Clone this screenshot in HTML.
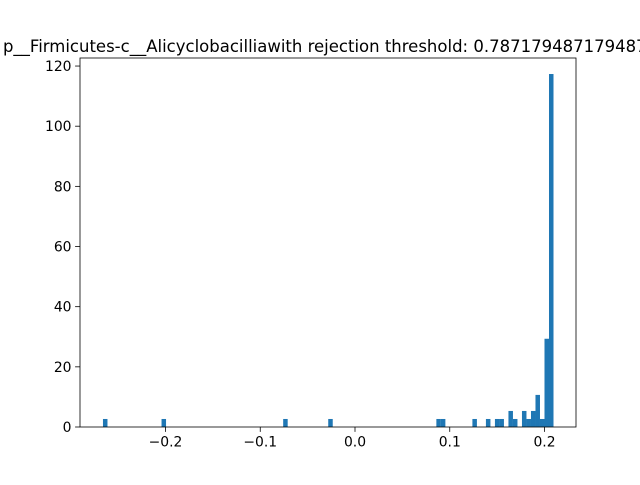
<!DOCTYPE html>
<html><head><meta charset="utf-8"><style>
body{margin:0;background:#fff;overflow:hidden;}
svg text{font-family:"DejaVu Sans","Liberation Sans",sans-serif;}
</style></head><body>
<svg id="chart" width="640" height="480" xmlns="http://www.w3.org/2000/svg">
<rect width="640" height="480" fill="#fff"/>
<text x="330" y="52" text-anchor="middle" font-size="16.5">p__Firmicutes-c__Alicyclobacilliawith rejection threshold: 0.7871794871794872</text>
<g id="bars"></g>
<g id="axes"></g>
</svg>
<script>
const binMin = -0.266;
const binMax = 0.2095;
const binCount = 100;
const binIndices = [0,13,40,50,74,75,82,85,87,88,90,91,93,94,95,96,97,98,99];
const binCounts = [1,1,1,1,1,1,1,1,1,1,2,1,2,1,2,4,1,11,44];
const unitHeight = 2.667;
const xTicks = [-0.2,-0.1,0.0,0.1,0.2];
const xTickLabels = ["−0.2","−0.1","0.0","0.1","0.2"];
const yTicks = [0,20,40,60,80,100,120];

const L=80,R=576,T=58,B=427;
const xs = v => 355 + (v-0)*947.5;
const ys = v => 427 - v*3.008;
const NS="http://www.w3.org/2000/svg";
const bars=document.getElementById('bars'), axes=document.getElementById('axes');
function mk(t,a,p){const e=document.createElementNS(NS,t);for(const k in a)e.setAttribute(k,a[k]);p.appendChild(e);return e;}
const bw=(binMax-binMin)/binCount;
binIndices.forEach((bi,i)=>{
  const x0=xs(binMin+bi*bw), x1=xs(binMin+(bi+1)*bw);
  const h=binCounts[i]*unitHeight;
  const r=mk('rect',{x:x0,y:ys(h),width:x1-x0,height:ys(0)-ys(h),fill:'#1f77b4'},bars);
  
  
});
const frame=mk('rect',{x:L,y:T,width:R-L,height:B-T,fill:'none',stroke:'#000','stroke-width':0.8},axes);


xTicks.forEach((v,i)=>{
  const x=xs(v);
  mk('line',{x1:x,x2:x,y1:B,y2:B+4.9,stroke:'#000','stroke-width':0.8},axes);
  const t=mk('text',{x:x,y:B+19.5,'text-anchor':'middle','font-size':13.9},axes);
  t.textContent=xTickLabels[i];
  
  
});
yTicks.forEach(v=>{
  const y=ys(v);
  mk('line',{x1:L,x2:L-4.9,y1:y,y2:y,stroke:'#000','stroke-width':0.8},axes);
  const t=mk('text',{x:L-8.5,y:y+5,'text-anchor':'end','font-size':13.9},axes);
  t.textContent=String(v);
  
  
});
</script>
</body></html>
